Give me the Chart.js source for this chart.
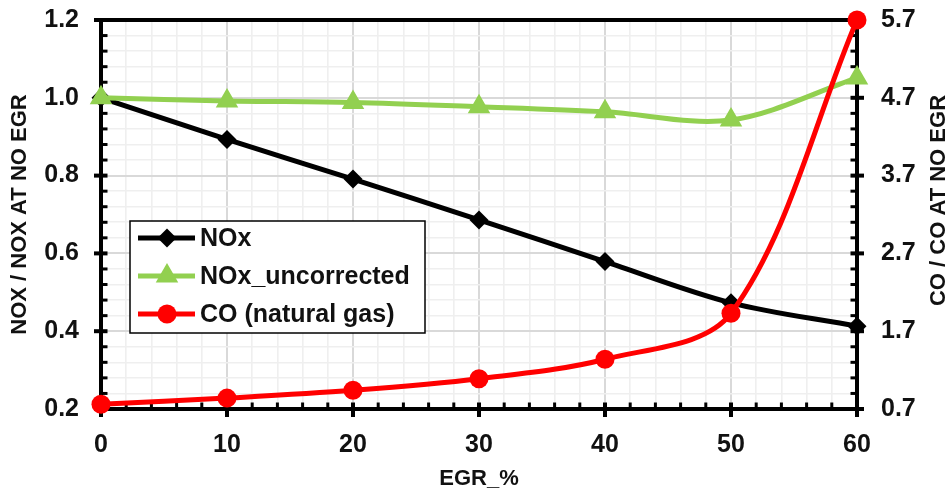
<!DOCTYPE html>
<html>
<head>
<meta charset="utf-8">
<script src="https://cdn.jsdelivr.net/npm/chart.js@4.4.1/dist/chart.umd.min.js"></script>
<style>
  html, body { margin: 0; padding: 0; background: #fff; }
  #wrap { width: 951px; height: 496px; position: relative; }
</style>
</head>
<body>
<div id="wrap"><canvas id="chart"></canvas></div>
<script>
// EGR sweep, values normalised to the no-EGR case
const egr = [0, 10, 20, 30, 40, 50, 60];
const noxRatio = [1.0, 0.893, 0.791, 0.686, 0.579, 0.473, 0.413];
const noxUncorrected = [1.0, 0.992, 0.988, 0.977, 0.964, 0.943, 1.051];
const coRatio = [0.76, 0.84, 0.94, 1.09, 1.34, 1.93, 5.7];

const seriesNames = ["NOx", "NOx_uncorrected", "CO (natural gas)"];
const xLabels = [0, 10, 20, 30, 40, 50, 60];
const leftLabels = [0.2, 0.4, 0.6, 0.8, 1.0, 1.2];
const rightLabels = [0.7, 1.7, 2.7, 3.7, 4.7, 5.7];
const rightTitle = "CO / CO AT NO EGR";

const FONT = "'Liberation Sans', Arial, sans-serif";
const TEXT = "#111";

function inList(list, v){
  return list.some(t => Math.abs(t - v) < 1e-6);
}

function gridColor(list){
  return ctx => inList(list, ctx.tick.value) ? "#d9d9d9" : "#efefef";
}
function gridWidth(list){
  return ctx => inList(list, ctx.tick.value) ? 2 : 1.6;
}

// fixed box sizes so the plot area lands where it should
function fixWidth(w){
  return s => { s.width = w; s.paddingTop = 0; s.paddingBottom = 0; };
}
function fixHeight(h){
  return s => { s.height = h; s.paddingLeft = 0; s.paddingRight = 0; };
}

// black frame round the plot, with tick marks (major cross the axis, minor point inward)
const frame = {
  id: "frame",
  beforeDatasetsDraw(chart){
    const {ctx, chartArea: a, scales} = chart;
    ctx.save();
    ctx.strokeStyle = "#000";
    ctx.lineCap = "butt";

    scales.y.ticks.forEach(t => {
      const p = scales.y.getPixelForValue(t.value);
      const major = inList(leftLabels, t.value);
      ctx.lineWidth = major ? 4 : 3;
      ctx.beginPath();
      ctx.moveTo(major ? a.left - 7 : a.left, p);
      ctx.lineTo(a.left + 6.5, p);
      ctx.stroke();
    });
    scales.y1.ticks.forEach(t => {
      const p = scales.y1.getPixelForValue(t.value);
      const major = inList(rightLabels, t.value);
      ctx.lineWidth = major ? 4 : 3;
      ctx.beginPath();
      ctx.moveTo(a.right - 6.5, p);
      ctx.lineTo(major ? a.right + 7 : a.right, p);
      ctx.stroke();
    });
    scales.x.ticks.forEach(t => {
      const p = scales.x.getPixelForValue(t.value);
      const major = inList(xLabels, t.value);
      ctx.lineWidth = major ? 4 : 3;
      ctx.beginPath();
      ctx.moveTo(p, a.bottom - 6.5);
      ctx.lineTo(p, major ? a.bottom + 8 : a.bottom);
      ctx.stroke();
    });

    ctx.lineWidth = 4;
    ctx.strokeRect(a.left, a.top, a.right - a.left, a.bottom - a.top);

    // right axis title reads bottom-to-top, like the left one
    ctx.translate(939, (a.top + a.bottom) / 2 - 14);
    ctx.rotate(-Math.PI / 2);
    ctx.fillStyle = TEXT;
    ctx.font = "bold 22px " + FONT;
    ctx.textAlign = "center";
    ctx.textBaseline = "middle";
    ctx.fillText(rightTitle, 0, 0);
    ctx.restore();
  }
};

// boxed legend inside the plot area
const legendBox = {
  id: "legendBox",
  afterDatasetsDraw(chart){
    const ctx = chart.ctx;
    const left = 130, top = 221, w = 295, h = 112;
    const rows = [238, 276, 314];
    ctx.save();
    ctx.fillStyle = "#fff";
    ctx.fillRect(left, top, w, h);
    ctx.lineWidth = 1.5;
    ctx.strokeStyle = "#000";
    ctx.strokeRect(left, top, w, h);

    chart.data.datasets.forEach((ds, i) => {
      const y = rows[i];
      ctx.strokeStyle = ds.borderColor;
      ctx.lineWidth = ds.borderWidth;
      ctx.beginPath();
      ctx.moveTo(left + 8, y);
      ctx.lineTo(left + 65, y);
      ctx.stroke();

      ctx.fillStyle = ds.backgroundColor;
      ctx.strokeStyle = ds.borderColor;
      ctx.lineWidth = ds.pointBorderWidth;
      Chart.helpers.drawPoint(ctx, {
        pointStyle: ds.pointStyle,
        radius: ds.pointRadius,
        borderWidth: ds.pointBorderWidth,
        rotation: 0
      }, left + 37, y);

      ctx.fillStyle = TEXT;
      ctx.font = "bold 25px " + FONT;
      ctx.textAlign = "left";
      ctx.textBaseline = "middle";
      ctx.fillText(ds.label, left + 70, y + 1);
    });
    ctx.restore();
  }
};

const points = vals => egr.map((x, i) => ({x, y: vals[i]}));

new Chart(document.getElementById("chart"), {
  type: "line",
  data: {
    datasets: [
      {
        label: seriesNames[0], data: points(noxRatio), yAxisID: "y",
        borderColor: "#000", backgroundColor: "#000", borderWidth: 5,
        pointStyle: "rectRot", pointRadius: 9.5, pointBorderWidth: 0,
        tension: 0.33, order: 3, clip: false
      },
      {
        label: seriesNames[1], data: points(noxUncorrected), yAxisID: "y",
        borderColor: "#92d050", backgroundColor: "#92d050", borderWidth: 5,
        pointStyle: "triangle", pointRadius: 11, pointBorderWidth: 2,
        tension: 0.33, order: 2, clip: false
      },
      {
        label: seriesNames[2], data: points(coRatio), yAxisID: "y1",
        borderColor: "#ff0000", backgroundColor: "#ff0000", borderWidth: 5,
        pointStyle: "circle", pointRadius: 9.5, pointBorderWidth: 0,
        tension: 0.33, order: 1, clip: false
      }
    ]
  },
  options: {
    responsive: true,
    maintainAspectRatio: false,
    animation: false,
    layout: { padding: { top: 20, left: 0, right: 0, bottom: 0 } },
    plugins: { legend: { display: false }, tooltip: { enabled: false } },
    scales: {
      x: {
        type: "linear", min: 0, max: 60,
        afterFit: fixHeight(87),
        border: { display: false },
        grid: { drawTicks: false, color: gridColor(xLabels), lineWidth: gridWidth(xLabels) },
        ticks: {
          stepSize: 2, autoSkip: false, maxRotation: 0, minRotation: 0, padding: 21,
          color: TEXT, font: { family: FONT, size: 25, weight: "bold" },
          callback: v => inList(xLabels, v) ? String(v) : ""
        },
        title: {
          display: true, text: "EGR_%", color: TEXT,
          font: { family: FONT, size: 22, weight: "bold", lineHeight: 1 },
          padding: { top: 0, bottom: 6 }
        }
      },
      y: {
        position: "left", min: 0.2, max: 1.2,
        afterFit: fixWidth(101),
        border: { display: false },
        grid: { drawTicks: false, color: gridColor(leftLabels), lineWidth: gridWidth(leftLabels) },
        ticks: {
          stepSize: 0.04, autoSkip: false, padding: 22,
          color: TEXT, font: { family: FONT, size: 25, weight: "bold" },
          callback: v => inList(leftLabels, v) ? v.toFixed(1) : ""
        },
        title: {
          display: true, text: "NOX / NOX AT NO EGR", color: TEXT,
          font: { family: FONT, size: 22, weight: "bold", lineHeight: 1 },
          padding: { top: 9, bottom: 0 }
        }
      },
      y1: {
        position: "right", min: 0.7, max: 5.7,
        afterFit: fixWidth(94),
        border: { display: false },
        grid: { display: false, drawTicks: false },
        ticks: {
          stepSize: 0.2, autoSkip: false, padding: 24,
          color: TEXT, font: { family: FONT, size: 25, weight: "bold" },
          callback: v => inList(rightLabels, v) ? v.toFixed(1) : ""
        },
        title: { display: false }
      }
    }
  },
  plugins: [frame, legendBox]
});
</script>
</body>
</html>
